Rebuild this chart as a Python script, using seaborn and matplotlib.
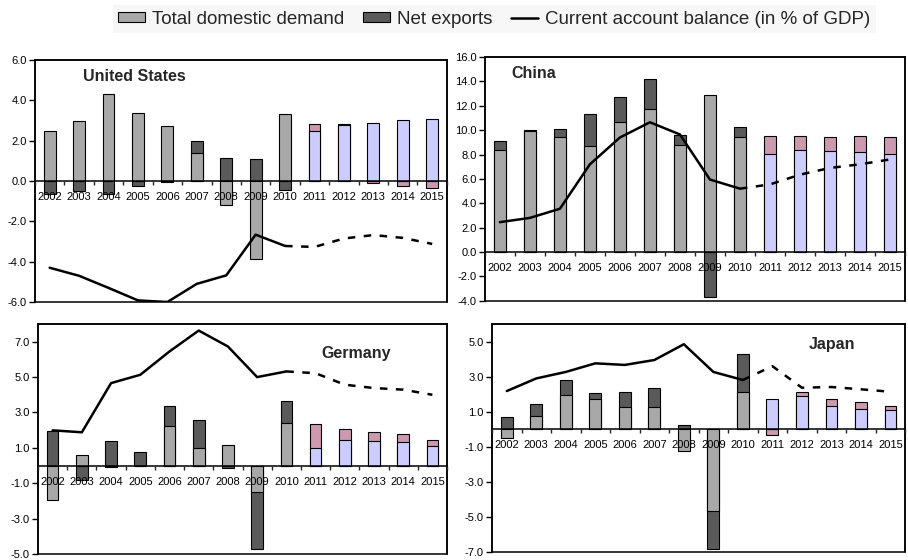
import numpy as np
import pandas as pd
import matplotlib
matplotlib.use("Agg")
import matplotlib.pyplot as plt
import seaborn as sns
from matplotlib.patches import Patch
from matplotlib.lines import Line2D

# 데이터
years = ["2002", "2003", "2004", "2005", "2006", "2007", "2008",
         "2009", "2010", "2011", "2012", "2013", "2014", "2015"]
period = ["hist"] * 9 + ["proj"] * 5

us_dd = [2.5, 3.0, 4.3, 3.35, 2.75, 1.4, -1.2, -3.85, 3.3, 2.5, 2.8, 2.9, 3.05, 3.1]
us_nx = [-0.65, -0.48, -0.65, -0.27, -0.07, 0.57, 1.15, 1.08, -0.47, 0.33, 0.02, -0.12, -0.25, -0.33]
us_ca = [-4.3, -4.7, -5.3, -5.92, -6.0, -5.1, -4.68, -2.66, -3.22, -3.27, -2.85, -2.68, -2.82, -3.12]

cn_dd = [8.4, 9.93, 9.45, 8.67, 10.7, 11.7, 8.78, 12.93, 9.45, 8.05, 8.38, 8.28, 8.2, 8.05]
cn_nx = [0.72, 0.07, 0.62, 2.62, 2.0, 2.5, 0.8, -3.73, 0.81, 1.5, 1.12, 1.16, 1.3, 1.36]
cn_ca = [2.45, 2.8, 3.55, 7.2, 9.4, 10.65, 9.65, 5.95, 5.2, 5.55, 6.35, 6.9, 7.2, 7.6]

de_dd = [-1.95, 0.62, -0.08, -0.02, 2.26, 1.0, 1.15, -1.5, 2.41, 1.0, 1.47, 1.41, 1.32, 1.11]
de_nx = [1.97, -0.79, 1.37, 0.77, 1.12, 1.59, -0.13, -3.2, 1.22, 1.35, 0.62, 0.49, 0.47, 0.32]
de_ca = [1.99, 1.88, 4.66, 5.13, 6.45, 7.63, 6.73, 5.0, 5.32, 5.22, 4.57, 4.38, 4.29, 4.0]

jp_dd = [-0.49, 0.75, 1.95, 1.7, 1.27, 1.27, -1.25, -4.68, 2.14, 1.72, 1.9, 1.3, 1.17, 1.08]
jp_nx = [0.7, 0.67, 0.84, 0.35, 0.87, 1.08, 0.22, -2.15, 2.14, -0.33, 0.2, 0.44, 0.38, 0.24]
jp_ca = [2.18, 2.9, 3.27, 3.76, 3.67, 3.95, 4.85, 3.27, 2.81, 3.6, 2.37, 2.41, 2.28, 2.14]

# 색상
DD_HIST, DD_PROJ = "#a8a8a8", "#ccccff"
NX_HIST, NX_PROJ = "#5a5a5a", "#cc99b0"

sns.set_style("white")
plt.rcParams["font.family"] = ["Liberation Sans", "DejaVu Sans"]
plt.rcParams["axes.unicode_minus"] = False

fig = plt.figure(figsize=(9.08, 5.6), dpi=100)


def panel(rect, dd, nx, ca, title, ylim, yticks, title_xy):
    ax = fig.add_axes(rect)
    dd = np.asarray(dd)
    nx = np.asarray(nx)
    # 양/음 분리 누적: 같은 부호면 위로 쌓고, 아니면 0에서 시작
    nx_end = np.where(np.sign(dd) == np.sign(nx), dd + nx, nx)
    df = pd.DataFrame({"year": years, "period": period, "dd": dd, "nx_end": nx_end})

    sns.barplot(data=df, x="year", y="nx_end", hue="period", order=years,
                palette={"hist": NX_HIST, "proj": NX_PROJ}, dodge=False,
                width=0.4, saturation=1, edgecolor="black", linewidth=0.8,
                errorbar=None, legend=False, ax=ax)
    sns.barplot(data=df, x="year", y="dd", hue="period", order=years,
                palette={"hist": DD_HIST, "proj": DD_PROJ}, dodge=False,
                width=0.4, saturation=1, edgecolor="black", linewidth=0.8,
                errorbar=None, legend=False, ax=ax)

    pos = np.arange(len(years))
    sns.lineplot(x=pos[:9], y=ca[:9], color="black", lw=1.8, ax=ax)
    sns.lineplot(x=pos[8:], y=ca[8:], color="black", lw=1.8, ax=ax,
                 linestyle=(0, (3, 3.4)))

    # 축 위치를 먼저 옮긴다 (set_position 이 틱을 초기화함)
    ax.spines["bottom"].set_position(("data", 0))
    for s in ax.spines.values():
        s.set_color("black")
        s.set_linewidth(1.1)
    ax.patch.set_edgecolor("black")
    ax.patch.set_linewidth(1.1)
    ax.patch.set_facecolor("white")
    ax.set_axisbelow(False)  # 연도 라벨/0선이 막대 위에 보이도록

    ax.set_xlim(-0.5, len(years) - 0.5)
    ax.set_ylim(*ylim)
    ax.set_yticks(yticks)
    ax.set_yticklabels([f"{v:.1f}" for v in yticks])
    ax.set_xticks(pos)
    ax.set_xticklabels(years)
    ax.set_xticks(np.arange(-0.5, len(years), 1), minor=True)
    ax.set_xlabel("")
    ax.set_ylabel("")

    ax.tick_params(axis="x", which="major", length=0, pad=8, labelsize=8, colors="black")
    ax.tick_params(axis="x", which="minor", length=3, width=1, direction="out", bottom=True)
    ax.tick_params(axis="y", length=4, width=1, direction="out", left=True, pad=2,
                   labelsize=8, colors="black")
    ax.grid(False)

    ax.text(title_xy[0], title_xy[1], title, transform=ax.transAxes,
            fontsize=11.5, fontweight="bold", ha="left", va="center")
    return ax


panel([0.0385, 0.4607, 0.4537, 0.4321], us_dd, us_nx, us_ca, "United States",
      (-6, 6), [-6, -4, -2, 0, 2, 4, 6], (0.117, 0.93))
panel([0.534, 0.463, 0.4627, 0.435], cn_dd, cn_nx, cn_ca, "China",
      (-4, 16), [-4, -2, 0, 2, 4, 6, 8, 10, 12, 14, 16], (0.062, 0.933))
panel([0.0419, 0.0107, 0.4504, 0.4107], de_dd, de_nx, de_ca, "Germany",
      (-5, 8), [-5, -3, -1, 1, 3, 5, 7], (0.694, 0.87))
panel([0.5419, 0.0143, 0.455, 0.407], jp_dd, jp_nx, jp_ca, "Japan",
      (-7, 6), [-7, -5, -3, -1, 1, 3, 5], (0.766, 0.912))

handles = [
    Patch(facecolor=DD_HIST, edgecolor="black", linewidth=0.8),
    Patch(facecolor=NX_HIST, edgecolor="black", linewidth=0.8),
    Line2D([0], [0], color="black", lw=1.8),
]
labels = ["Total domestic demand", "Net exports", "Current account balance (in % of GDP)"]
leg = fig.legend(handles, labels, loc="upper center", bbox_to_anchor=(0.5446, 1.008),
                 ncol=3, fontsize=13.5, frameon=True, fancybox=False,
                 handlelength=1.44, handleheight=0.5, handletextpad=0.37,
                 columnspacing=1.0, borderpad=0.3)
leg.get_frame().set_facecolor("#f5f5f5")
leg.get_frame().set_edgecolor("none")

fig.savefig("out.png", dpi=100)
